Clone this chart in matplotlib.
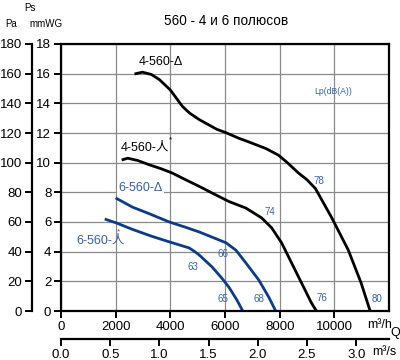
import matplotlib
matplotlib.use("Agg")
import matplotlib.pyplot as plt

plt.rcParams['font.family'] = ['Liberation Sans', 'Noto Sans CJK SC', 'DejaVu Sans']

# curves: flow Q (m3/h) vs static pressure Ps (mmWG)
q_4d = [2690, 2980, 3300, 3600, 4000, 4200, 4440, 4700, 5060, 5700, 6000, 6500, 6870, 7500, 7960, 8250, 8690, 9000, 9310, 9890, 10510, 10980, 11310]
p_4d = [15.98, 16.1, 15.95, 15.6, 14.9, 14.4, 13.8, 13.35, 12.9, 12.25, 12.05, 11.65, 11.4, 10.95, 10.5, 10.05, 9.3, 8.85, 8.25, 6.34, 4.11, 1.89, 0.0]

q_4y = [2220, 2440, 2800, 3240, 3650, 4070, 4580, 5060, 5500, 6145, 6764, 7345, 7709, 8073, 8436, 8800, 9164, 9345]
p_4y = [10.18, 10.3, 10.15, 9.85, 9.6, 9.3, 8.83, 8.4, 7.98, 7.38, 6.94, 6.27, 5.6, 4.59, 3.24, 1.89, 0.54, 0.0]

q_6d = [2000, 2618, 3240, 3964, 4500, 5055, 5500, 6036, 6400, 6764, 7236, 7600, 7855]
p_6d = [7.62, 7.0, 6.55, 6.0, 5.68, 5.33, 5.0, 4.6, 4.1, 3.24, 2.09, 0.94, 0.0]

q_6y = [1600, 2036, 2618, 3300, 3964, 4691, 4873, 5055, 5527, 5891, 6145, 6436, 6650]
p_6y = [6.2, 5.93, 5.5, 5.05, 4.66, 4.25, 4.03, 3.78, 2.97, 2.2, 1.6, 0.74, 0.0]

# noise levels Lp dB(A) and where they sit
noise_labels = ['78', '74', '66', '63', '65', '68', '76', '80']
noise_x = [9420, 7640, 5930, 4840, 5930, 7240, 9530, 11560]
noise_y = [8.75, 6.7, 3.85, 2.97, 0.81, 0.81, 0.85, 0.81]

x_ticks = [0, 2000, 4000, 6000, 8000, 10000]
y_ticks = [0, 2, 4, 6, 8, 10, 12, 14, 16, 18]
pa_ticks = [0, 20, 40, 60, 80, 100, 120, 140, 160, 180]
ms_ticks = [0.0, 0.5, 1.0, 1.5, 2.0, 2.5, 3.0]

BLUE = '#0c3b8a'
BLUE_TXT = '#3560aa'

fig = plt.figure(figsize=(4, 3.6), dpi=100)
ax = fig.add_axes([61 / 400, 49 / 360, 328 / 400, 267 / 360])

for qq, pp, col in [(q_4d, p_4d, 'black'), (q_4y, p_4y, 'black'),
                    (q_6d, p_6d, BLUE), (q_6y, p_6y, BLUE)]:
    ax.plot(qq, pp, color=col, lw=2, solid_joinstyle='round', solid_capstyle='butt')

ax.set_xlim(0, 12000)
ax.set_ylim(0, 18)
ax.set_xticks(x_ticks)
ax.set_yticks(y_ticks)
ax.set_xticklabels([str(v) for v in x_ticks])
ax.set_yticklabels([str(v) for v in y_ticks])
ax.grid(True, color='#8a8a8a', lw=0.9)
ax.set_axisbelow(True)
for s in ax.spines.values():
    s.set_linewidth(1.6)
ax.tick_params(direction='out', length=5, width=1.4, labelsize=9.5, pad=2)

# Pa axis on the left
pa = ax.secondary_yaxis(-29 / 328, functions=(lambda v: v * 10, lambda v: v / 10))
pa.set_yticks(pa_ticks)
pa.set_yticklabels([str(v) for v in pa_ticks])
pa.spines['left'].set_linewidth(1.6)
pa.tick_params(direction='out', length=5, width=1.4, labelsize=9.5, pad=2)

# m3/s axis at the bottom
ms = ax.secondary_xaxis(-28 / 267, functions=(lambda v: v / 3600, lambda v: v * 3600))
ms.set_xticks(ms_ticks)
ms.set_xticklabels(['%.1f' % v for v in ms_ticks])
ms.spines['bottom'].set_linewidth(1.6)
ms.tick_params(direction='out', length=5, width=1.4, labelsize=9.5, pad=2)

# curve names
ax.text(3640, 16.8, '4-560-Δ', fontsize=9, ha='center', va='center')
ax.text(2200, 11.0, '4-560-人', fontsize=9, ha='left', va='center')
ax.text(3950, 11.55, '*', fontsize=6, ha='left', va='center')
ax.text(2900, 8.3, '6-560-Δ', fontsize=9, color=BLUE_TXT, ha='center', va='center',
        bbox=dict(facecolor='white', edgecolor='none', pad=1))
ax.text(580, 4.72, '6-560-人', fontsize=9, color=BLUE_TXT, ha='left', va='center')
ax.text(2050, 5.35, '*', fontsize=6, color=BLUE_TXT, ha='left', va='center')

for lab, xx, yy in zip(noise_labels, noise_x, noise_y):
    ax.text(xx, yy, lab, fontsize=7, color=BLUE_TXT, ha='center', va='center')
ax.text(9960, 14.8, 'Lp(dB(A))', fontsize=6.2, color=BLUE_TXT, ha='center', va='center')

# units
fig.text(367 / 400, 1 - 325 / 360, 'm³/h', fontsize=9, ha='left', va='center')
fig.text(372 / 400, 1 - 352 / 360, 'm³/s', fontsize=9, ha='left', va='center')
fig.text(390 / 400, 1 - 333 / 360, 'Q', fontsize=9, ha='left', va='center')
fig.text(30 / 400, 1 - 8 / 360, 'Ps', fontsize=7, ha='center', va='center')
fig.text(11 / 400, 1 - 24 / 360, 'Pa', fontsize=7, ha='center', va='center')
fig.text(46 / 400, 1 - 24 / 360, 'mmWG', fontsize=7, ha='center', va='center')
fig.text(226 / 400, 1 - 21 / 360, '560 - 4 и 6 полюсов', fontsize=9.8, ha='center', va='center')

fig.savefig('out.png', dpi=100)
